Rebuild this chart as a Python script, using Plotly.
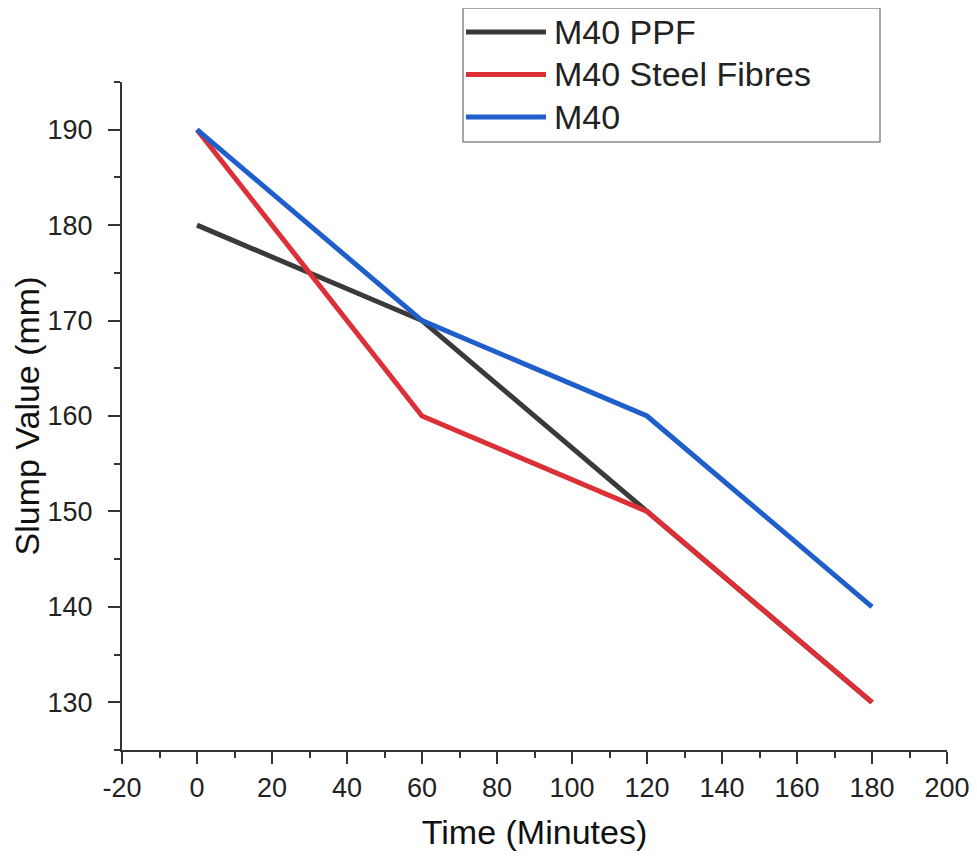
import plotly.graph_objects as go

time_min = [0, 60, 120, 180]
ppf = [180, 170, 150, 130]
steel = [190, 160, 150, 130]
plain = [190, 170, 160, 140]

names = ["M40 PPF", "M40 Steel Fibres", "M40"]
colors = ["#3a3a3a", "#dc2f36", "#1f5fcc"]

x_ticks = list(range(-20, 201, 20))
x_labels = [str(v) for v in x_ticks]  # plain hyphen, like the original
y_ticks = list(range(130, 191, 10))

# page body has an 8px margin, so the figure sits at (8, 8)
OFF = 8
W, H = 977 - 2 * OFF, 859 - 2 * OFF
L, T = 122 - OFF, 82 - OFF
PW, PH = 825, 668  # a bit narrower so the "200" label stays inside the page
R, B = W - L - PW, H - T - PH
FONT = "Liberation Sans, Arial, sans-serif"
AX = "#333333"


def px(xp):
    return (xp - OFF - L) / PW


def py(yp):
    return (T + PH - (yp - OFF)) / PH


fig = go.Figure()
for ys, name, col in zip([ppf, steel, plain], names, colors):
    fig.add_trace(
        go.Scatter(
            x=time_min,
            y=ys,
            name=name,
            mode="lines",
            line=dict(color=col, width=5),
            showlegend=False,
        )
    )

# legend drawn by hand (box, samples, labels)
shapes = [
    dict(type="rect", xref="paper", yref="paper",
         x0=px(463), x1=px(880), y0=py(142), y1=py(8),
         line=dict(color="#8a8a8a", width=1.5), fillcolor="white", layer="above")
]
annotations = []
for i, (name, col) in enumerate(zip(names, colors)):
    row = 32 + i * 42.5
    shapes.append(dict(type="line", xref="paper", yref="paper",
                       x0=px(466), x1=px(546), y0=py(row), y1=py(row),
                       line=dict(color=col, width=5), layer="above"))
    annotations.append(dict(text=name, xref="paper", yref="paper",
                            x=px(552), y=py(row), xanchor="left", yanchor="middle",
                            showarrow=False, font=dict(size=34, color="#222222", family=FONT)))

fig.update_layout(
    width=W,
    height=H,
    margin=dict(l=L, r=R, t=T, b=B),
    paper_bgcolor="white",
    plot_bgcolor="white",
    font=dict(family=FONT, color="#222222"),
    shapes=shapes,
    annotations=annotations,
    xaxis=dict(
        range=[-20, 200],
        tickvals=x_ticks,
        ticktext=x_labels,
        ticklabeloverflow="allow",
        automargin=False,
        showgrid=False,
        zeroline=False,
        showline=True,
        linecolor=AX,
        linewidth=2,
        ticks="outside",
        ticklen=12,
        tickwidth=2,
        tickcolor=AX,
        minor=dict(ticks="outside", ticklen=6, tickwidth=2, tickcolor=AX, dtick=10, tick0=-20, showgrid=False),
        tickfont=dict(size=27, family=FONT, color="#222222"),
        ticklabelstandoff=1,
        title=dict(text="Time (Minutes)", font=dict(size=34, family=FONT, color="#111111"), standoff=18),
    ),
    yaxis=dict(
        range=[125, 195],
        tickvals=y_ticks,
        automargin=False,
        showgrid=False,
        zeroline=False,
        showline=True,
        linecolor=AX,
        linewidth=2,
        ticks="outside",
        ticklen=12,
        tickwidth=2,
        tickcolor=AX,
        minor=dict(ticks="outside", ticklen=6, tickwidth=2, tickcolor=AX, dtick=5, tick0=125, showgrid=False),
        tickfont=dict(size=27, family=FONT, color="#222222"),
        ticklabelstandoff=10,
        title=dict(text="Slump Value (mm)", font=dict(size=34, family=FONT, color="#111111"), standoff=6),
    ),
)

fig.write_html("out.html", config={"displayModeBar": False})
